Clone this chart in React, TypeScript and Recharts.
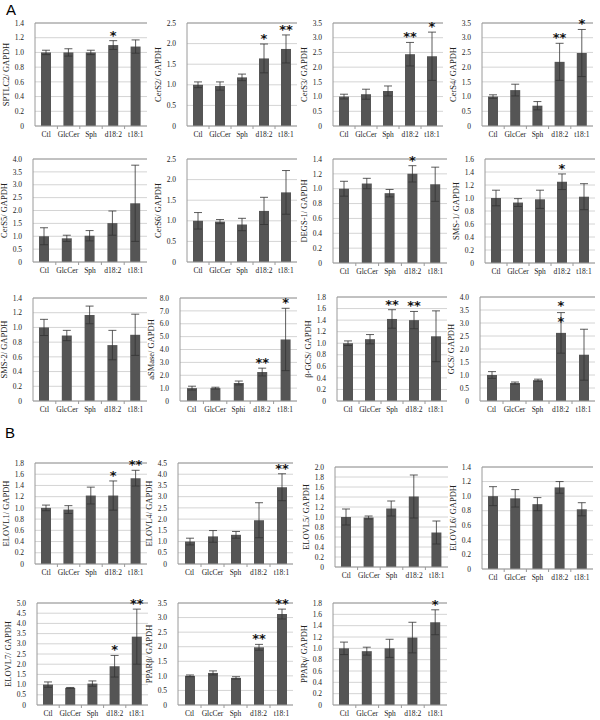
import React from "react";
import {
  BarChart,
  Bar,
  XAxis,
  YAxis,
  CartesianGrid,
  ErrorBar,
  LabelList,
  Label,
  ReferenceLine,
} from "recharts";

// ---------- categories ----------
const CATS = ["Ctl", "GlcCer", "Sph", "d18:2", "t18:1"];
const CATS_ASM = ["Ctl", "GlcCer", "Sphi", "d18:2", "t18:1"];

// ---------- panel A ----------
const SPTLC2 = [1.0, 1.0, 1.0, 1.1, 1.08];
const SPTLC2_SD = [0.03, 0.05, 0.03, 0.06, 0.09];
const SPTLC2_SIG = ["", "", "", "*", ""];

const CERS2 = [1.0, 0.97, 1.18, 1.64, 1.87];
const CERS2_SD = [0.07, 0.1, 0.08, 0.35, 0.34];
const CERS2_SIG = ["", "", "", "*", "**"];

const CERS3 = [1.0, 1.08, 1.19, 2.44, 2.37];
const CERS3_SD = [0.08, 0.17, 0.17, 0.4, 0.82];
const CERS3_SIG = ["", "", "", "**", "*"];

const CERS4 = [1.0, 1.22, 0.69, 2.18, 2.48];
const CERS4_SD = [0.06, 0.2, 0.14, 0.63, 0.8];
const CERS4_SIG = ["", "", "", "**", "*"];

const CERS5 = [1.0, 0.92, 1.02, 1.51, 2.28];
const CERS5_SD = [0.33, 0.12, 0.2, 0.47, 1.48];
const CERS5_SIG = ["", "", "", "", ""];

const CERS6 = [1.0, 0.98, 0.91, 1.24, 1.69];
const CERS6_SD = [0.2, 0.05, 0.15, 0.33, 0.53];
const CERS6_SIG = ["", "", "", "", ""];

const DEGS1 = [1.0, 1.07, 0.94, 1.2, 1.06];
const DEGS1_SD = [0.1, 0.07, 0.05, 0.11, 0.23];
const DEGS1_SIG = ["", "", "", "*", ""];

const SMS1 = [1.0, 0.93, 0.98, 1.25, 1.02];
const SMS1_SD = [0.12, 0.06, 0.14, 0.12, 0.2];
const SMS1_SIG = ["", "", "", "*", ""];

const SMS2 = [1.0, 0.89, 1.17, 0.76, 0.9];
const SMS2_SD = [0.11, 0.07, 0.12, 0.2, 0.28];
const SMS2_SIG = ["", "", "", "", ""];

const ASMASE = [1.0, 1.0, 1.4, 2.25, 4.78];
const ASMASE_SD = [0.15, 0.07, 0.15, 0.3, 2.42];
const ASMASE_SIG = ["", "", "", "**", "*"];

const BGCS = [1.0, 1.07, 1.42, 1.4, 1.12];
const BGCS_SD = [0.04, 0.08, 0.16, 0.15, 0.44];
const BGCS_SIG = ["", "", "**", "**", ""];

const GCS = [1.0, 0.69, 0.8, 2.62, 1.78];
const GCS_SD = [0.13, 0.04, 0.04, 0.78, 0.98];
const GCS_SIG = ["", "", "", "*:*", ""];

// ---------- panel B ----------
const ELOVL1 = [1.0, 0.97, 1.22, 1.22, 1.53];
const ELOVL1_SD = [0.05, 0.07, 0.15, 0.26, 0.14];
const ELOVL1_SIG = ["", "", "", "*", "**"];

const ELOVL4 = [1.0, 1.23, 1.3, 1.95, 3.42];
const ELOVL4_SD = [0.15, 0.26, 0.15, 0.78, 0.6];
const ELOVL4_SIG = ["", "", "", "", "**"];

const ELOVL5 = [1.0, 0.99, 1.17, 1.41, 0.69];
const ELOVL5_SD = [0.16, 0.03, 0.15, 0.43, 0.23];
const ELOVL5_SIG = ["", "", "", "", ""];

const ELOVL6 = [1.0, 0.97, 0.89, 1.12, 0.82];
const ELOVL6_SD = [0.13, 0.12, 0.09, 0.08, 0.09];
const ELOVL6_SIG = ["", "", "", "", ""];

const ELOVL7 = [1.0, 0.84, 1.05, 1.9, 3.35];
const ELOVL7_SD = [0.13, 0.02, 0.13, 0.53, 1.35];
const ELOVL7_SIG = ["", "", "", "*", "**"];

const PPARB = [1.0, 1.1, 0.93, 1.98, 3.12];
const PPARB_SD = [0.03, 0.07, 0.04, 0.1, 0.17];
const PPARB_SIG = ["", "", "", "**", "**"];

const PPARG = [1.0, 0.95, 1.0, 1.19, 1.46];
const PPARG_SD = [0.11, 0.07, 0.16, 0.27, 0.22];
const PPARG_SIG = ["", "", "", "", "*"];

// ---------- layout (plot-area boxes) ----------
type Cfg = {
  label: string;
  cats: string[];
  means: number[];
  sds: number[];
  sig: string[];
  yMax: number;
  step: number;
  left: number;
  top: number;
  w: number;
  h: number;
};

const PANELS: Cfg[] = [
  { label: "SPTLC2/ GAPDH", cats: CATS, means: SPTLC2, sds: SPTLC2_SD, sig: SPTLC2_SIG, yMax: 1.4, step: 0.2, left: 35, top: 23, w: 112, h: 103 },
  { label: "CerS2/ GAPDH", cats: CATS, means: CERS2, sds: CERS2_SD, sig: CERS2_SIG, yMax: 2.5, step: 0.5, left: 187, top: 23, w: 110, h: 103 },
  { label: "CerS3/ GAPDH", cats: CATS, means: CERS3, sds: CERS3_SD, sig: CERS3_SIG, yMax: 3.5, step: 0.5, left: 333, top: 23, w: 110, h: 103 },
  { label: "CerS4/ GAPDH", cats: CATS, means: CERS4, sds: CERS4_SD, sig: CERS4_SIG, yMax: 3.5, step: 0.5, left: 482, top: 23, w: 111, h: 103 },

  { label: "CerS5/ GAPDH", cats: CATS, means: CERS5, sds: CERS5_SD, sig: CERS5_SIG, yMax: 4.0, step: 0.5, left: 33, top: 159, w: 114, h: 103 },
  { label: "CerS6/ GAPDH", cats: CATS, means: CERS6, sds: CERS6_SD, sig: CERS6_SIG, yMax: 2.5, step: 0.5, left: 187, top: 159, w: 110, h: 103 },
  { label: "DEGS-1/ GAPDH", cats: CATS, means: DEGS1, sds: DEGS1_SD, sig: DEGS1_SIG, yMax: 1.4, step: 0.2, left: 333, top: 159, w: 114, h: 104 },
  { label: "SMS-1/ GAPDH", cats: CATS, means: SMS1, sds: SMS1_SD, sig: SMS1_SIG, yMax: 1.6, step: 0.2, left: 485, top: 159, w: 110, h: 104 },

  { label: "SMS-2/ GAPDH", cats: CATS, means: SMS2, sds: SMS2_SD, sig: SMS2_SIG, yMax: 1.4, step: 0.2, left: 33, top: 298, w: 114, h: 103 },
  { label: "aSMase/ GAPDH", cats: CATS_ASM, means: ASMASE, sds: ASMASE_SD, sig: ASMASE_SIG, yMax: 8.0, step: 1.0, left: 180, top: 298, w: 117, h: 103 },
  { label: "β-GCS/ GAPDH", cats: CATS, means: BGCS, sds: BGCS_SD, sig: BGCS_SIG, yMax: 1.8, step: 0.2, left: 337, top: 297, w: 110, h: 104 },
  { label: "GCS/ GAPDH", cats: CATS, means: GCS, sds: GCS_SD, sig: GCS_SIG, yMax: 4.0, step: 0.5, left: 480, top: 297, w: 115, h: 104 },

  { label: "ELOVL1/ GAPDH", cats: CATS, means: ELOVL1, sds: ELOVL1_SD, sig: ELOVL1_SIG, yMax: 1.8, step: 0.2, left: 35, top: 463, w: 112, h: 101 },
  { label: "ELOVL4/ GAPDH", cats: CATS, means: ELOVL4, sds: ELOVL4_SD, sig: ELOVL4_SIG, yMax: 4.5, step: 0.5, left: 178, top: 463, w: 115, h: 101 },
  { label: "ELOVL5/ GAPDH", cats: CATS, means: ELOVL5, sds: ELOVL5_SD, sig: ELOVL5_SIG, yMax: 2.0, step: 0.2, left: 335, top: 467, w: 113, h: 100 },
  { label: "ELOVL6/ GAPDH", cats: CATS, means: ELOVL6, sds: ELOVL6_SD, sig: ELOVL6_SIG, yMax: 1.4, step: 0.2, left: 482, top: 467, w: 111, h: 102 },

  { label: "ELOVL7/ GAPDH", cats: CATS, means: ELOVL7, sds: ELOVL7_SD, sig: ELOVL7_SIG, yMax: 5.0, step: 0.5, left: 37, top: 603, w: 111, h: 102 },
  { label: "PPARβ/ GAPDH", cats: CATS, means: PPARB, sds: PPARB_SD, sig: PPARB_SIG, yMax: 3.5, step: 0.5, left: 178, top: 603, w: 115, h: 102 },
  { label: "PPARγ/ GAPDH", cats: CATS, means: PPARG, sds: PPARG_SD, sig: PPARG_SIG, yMax: 1.8, step: 0.2, left: 333, top: 603, w: 114, h: 102 },
];

const SERIF = "'Liberation Serif', 'DejaVu Serif', serif";
const BORDER = "#9a9a9a";
const GRID = "#d4d4d4";
const BAR = "#555555";

const L = 42; // space to the left of the plot area
const T = 16; // space above
const B = 18; // x-axis band below

function SmallChart({ cfg }: { cfg: Cfg }) {
  const { cats, means, sds, sig, yMax, step, w, h, label } = cfg;
  const data = cats.map((c, i) => ({ cat: c, v: means[i], e: sds[i], s: sig[i] }));
  const n = Math.round(yMax / step);
  const ticks: number[] = [];
  for (let i = 0; i <= n; i++) ticks.push(Number((i * step).toFixed(2)));
  const band = w / cats.length;

  const xTick = (p: any) => {
    const { x, y, payload, index } = p;
    return (
      <g>
        {index > 0 && (
          <line x1={x - band / 2} x2={x - band / 2} y1={y} y2={y + 3} stroke={BORDER} strokeWidth={1} />
        )}
        <text x={x} y={y + 11} textAnchor="middle" fontSize={7.5} fontFamily={SERIF} fill="#222">
          {payload.value}
        </text>
      </g>
    );
  };

  const yLabel = (p: any) => {
    const vb = p.viewBox || { x: 0, y: T, width: L, height: h };
    const cx = vb.x + 13;
    const cy = vb.y + vb.height / 2;
    return (
      <text
        x={cx}
        y={cy}
        transform={`rotate(-90, ${cx}, ${cy})`}
        textAnchor="middle"
        dominantBaseline="central"
        fontSize={8.5}
        fontFamily={SERIF}
        fill="#222"
      >
        {label}
      </text>
    );
  };

  const star = (p: any) => {
    const vb = p.viewBox || {};
    const x = p.x ?? vb.x;
    const y = p.y ?? vb.y;
    const width = p.width ?? vb.width;
    const height = p.height ?? vb.height;
    const index = p.index;
    const value = p.value;
    if (!value || index == null) return null;
    const pxu = height / means[index];
    const errTop = y - sds[index] * pxu;
    const cx = x + width / 2;
    const parts = String(value).split(":");
    const base = parts.length > 1 ? errTop - 3 : errTop - 1;
    return (
      <g>
        {parts.map((s, k) => (
          <text
            key={k}
            x={cx}
            y={base + k * 16}
            textAnchor="middle"
            fontSize={13}
            fontWeight="bold"
            fontFamily="'DejaVu Sans', sans-serif"
            fill="#111"
          >
            {s}
          </text>
        ))}
      </g>
    );
  };

  return (
    <div style={{ position: "absolute", left: cfg.left - L, top: cfg.top - T }}>
      <BarChart
        width={L + w + 1}
        height={T + h + B}
        data={data}
        margin={{ top: T, right: 1, left: 0, bottom: 0 }}
      >
        <CartesianGrid vertical={false} stroke={GRID} />
        <XAxis
          dataKey="cat"
          height={B}
          interval={0}
          tickLine={false}
          tickSize={0}
          tickMargin={0}
          axisLine={{ stroke: BORDER }}
          tick={xTick}
        />
        <YAxis
          width={L}
          domain={[0, yMax]}
          ticks={ticks}
          interval={0}
          tickLine={false}
          tickMargin={5}
          axisLine={{ stroke: BORDER }}
          tick={{ fontSize: 7.5, fontFamily: SERIF, fill: "#222" }}
          tickFormatter={(v: number) => (v === 0 ? "0" : v.toFixed(1))}
        >
          <Label content={yLabel} />
        </YAxis>
        <YAxis yAxisId="r" orientation="right" width={0} tick={false} tickLine={false} axisLine={{ stroke: BORDER }} />
        <ReferenceLine y={yMax} stroke={BORDER} />
        <Bar dataKey="v" fill={BAR} barSize={10} isAnimationActive={false}>
          <ErrorBar dataKey="e" width={4} stroke="#333" strokeWidth={0.8} />
          <LabelList dataKey="s" content={star} />
        </Bar>
      </BarChart>
    </div>
  );
}

export default function App() {
  return (
    <div style={{ position: "absolute", left: 0, top: 0, width: 600, height: 720, background: "#fff" }}>
      <div style={{ position: "absolute", left: 6, top: 1, fontSize: 15, fontFamily: "'Liberation Sans', Arial, sans-serif" }}>A</div>
      <div style={{ position: "absolute", left: 5, top: 424, fontSize: 15, fontFamily: "'Liberation Sans', Arial, sans-serif" }}>B</div>
      {PANELS.map((p) => (
        <SmallChart key={p.label} cfg={p} />
      ))}
    </div>
  );
}
